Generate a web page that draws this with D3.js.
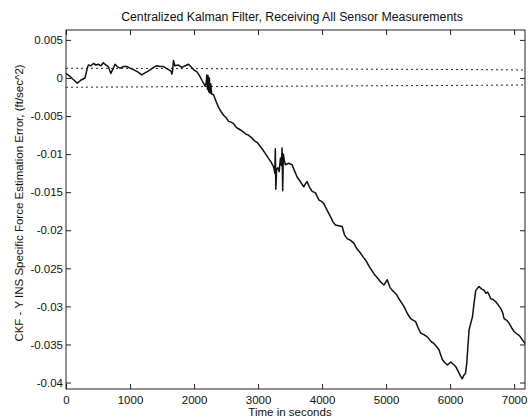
<!DOCTYPE html>
<html>
<head>
<meta charset="utf-8">
<script src="https://cdn.jsdelivr.net/npm/d3@7"></script>
<style>
  body { margin: 0; background: #fff; }
  text { font-family: "Liberation Sans", Arial, sans-serif; fill: #111; }
</style>
</head>
<body>
<svg></svg>
<script>
const title = "Centralized Kalman Filter, Receiving All Sensor Measurements";
const xLabel = "Time in seconds";
const yLabel = "CKF - Y INS Specific Force Estimation Error, (ft/sec^2)";

const xTicks = [0, 1000, 2000, 3000, 4000, 5000, 6000, 7000];
const yTicks = [0.005, 0, -0.005, -0.01, -0.015, -0.02, -0.025, -0.03, -0.035, -0.04];

// time (s)
const times = [
  0, 30, 63, 114, 177, 230, 297, 330, 349, 390, 428, 470, 505, 545, 584, 620, 662, 700, 735, 767,
  800, 845, 900, 950, 1000, 1053, 1120, 1184, 1220, 1262, 1320, 1370, 1419, 1470, 1523, 1560, 1601,
  1640, 1654, 1665, 1679, 1700, 1757, 1810, 1862, 1914, 1960, 1992, 2045, 2085, 2123, 2150, 2175,
  2190, 2200, 2210, 2220, 2230, 2240, 2250, 2262, 2275, 2305, 2340, 2380, 2420, 2462, 2500, 2540,
  2580, 2618, 2660, 2700, 2740, 2775, 2810, 2850, 2906, 2950, 2990, 3036, 3080, 3120, 3166, 3200,
  3244, 3262, 3270, 3278, 3290, 3310, 3330, 3350, 3365, 3375, 3385, 3395, 3410, 3427, 3480, 3532,
  3570, 3610, 3660, 3714, 3740, 3766, 3800, 3845, 3897, 3948, 3990, 4027, 4080, 4131, 4170, 4210,
  4260, 4314, 4350, 4392, 4440, 4496, 4550, 4601, 4640, 4679, 4740, 4809, 4860, 4914, 4966, 5018,
  5060, 5097, 5123, 5160, 5200, 5240, 5279, 5330, 5383, 5420, 5462, 5500, 5540, 5590, 5645, 5700,
  5749, 5790, 5827, 5850, 5880, 5920, 5958, 6009, 6050, 6088, 6130, 6166, 6190, 6218, 6240, 6260,
  6280, 6296, 6320, 6349, 6375, 6401, 6430, 6452, 6490, 6531, 6560, 6584, 6610, 6635, 6670, 6714,
  6750, 6792, 6820, 6844, 6880, 6922, 6960, 7000, 7040, 7079, 7130, 7170
];

// error, in 1e-3 ft/sec^2
const errors = [
  0.6, 0.4, 0.2, -0.2, -0.7, -0.3, 0.0, 1.2, 1.7, 1.6, 1.9, 1.7, 1.8, 1.6, 2.0, 1.7, 1.5, 0.6, 1.2, 1.8,
  1.5, 1.3, 1.5, 1.5, 1.3, 1.1, 0.8, 0.4, 0.6, 0.8, 1.1, 1.4, 1.6, 1.5, 1.5, 1.3, 1.1,
  0.9, 0.5, 1.0, 2.3, 1.6, 1.7, 1.4, 1.6, 1.8, 1.4, 1.1, 0.8, 0.3, -0.3, -0.7, -1.1,
  -0.6, 0.4, -1.5, 0.3, -1.8, 0.0, -2.0, -0.8, -2.1, -2.2, -3.0, -3.8, -4.4, -4.9, -5.2, -5.7,
  -5.8, -6.0, -6.5, -6.7, -6.9, -7.1, -7.4, -7.5, -7.9, -8.3, -8.5, -9.0, -9.5, -10.0, -10.6, -11.0,
  -11.7, -12.5, -9.3, -14.6, -12.0, -11.8, -12.3, -10.5, -11.5, -9.2, -14.8, -10.0, -10.8, -11.4, -11.2, -11.4,
  -12.2, -13.0, -13.6, -14.3, -13.9, -13.6, -14.3, -14.9, -15.1, -16.0, -16.2, -16.5, -17.4, -18.2, -18.9, -19.3,
  -19.4, -19.5, -20.6, -21.1, -21.3, -21.7, -22.5, -23.0, -23.5, -23.9, -24.8, -25.7, -26.2, -26.8, -27.2, -26.5,
  -27.5, -27.9, -28.1, -28.4, -29.0, -29.5, -30.0, -30.9, -31.6, -31.8, -32.0, -32.8, -33.5, -33.7, -34.0, -34.6,
  -34.9, -35.3, -35.7, -36.3, -37.0, -37.4, -37.7, -37.3, -37.6, -37.9, -38.6, -39.2, -39.5, -39.0, -38.8, -37.5,
  -35.0, -33.1, -32.3, -31.4, -29.5, -27.9, -27.6, -27.4, -27.7, -27.9, -28.3, -28.1, -28.5, -29.0, -29.1, -29.4,
  -29.8, -30.3, -30.8, -31.6, -31.8, -32.2, -32.8, -33.3, -33.6, -33.8, -34.4, -34.9
];

// dotted 1-sigma bounds, in 1e-3
const boundTimes = [0, 6000, 7170];
const upperBound = [1.28, 1.12, 1.05];
const lowerBound = [-1.22, -0.98, -0.92];

const svgWidth = 528;
const svgHeight = 420;
const plotLeft = 66, plotRight = 525, plotTop = 30, plotBottom = 389;

const svg = d3.select("svg")
  .attr("width", svgWidth)
  .attr("height", svgHeight);

const xScale = d3.scaleLinear().domain([0, 7170]).range([plotLeft, plotRight]);
const yScale = d3.scaleLinear().domain([-0.04085, 0.0063]).range([plotBottom, plotTop]);

const fmt = d => (d === 0 ? "0" : String(+d.toFixed(3)));

const line = d3.line()
  .x(d => xScale(d[0]))
  .y(d => yScale(d[1] * 1e-3));

// bounds
[upperBound, lowerBound].forEach(b => {
  svg.append("path")
    .datum(boundTimes.map((t, i) => [t, b[i]]))
    .attr("d", line)
    .attr("fill", "none")
    .attr("stroke", "#222")
    .attr("stroke-width", 1)
    .attr("stroke-dasharray", "2,3");
});

// error curve
svg.append("path")
  .datum(times.map((t, i) => [t, errors[i]]))
  .attr("d", line)
  .attr("fill", "none")
  .attr("stroke", "#111")
  .attr("stroke-width", 1.5)
  .attr("stroke-linejoin", "round");

// axes (ticks pointing inward)
const axisStyle = g => {
  g.select(".domain").remove();
  g.selectAll("line").attr("stroke", "#222");
  g.selectAll("text").attr("font-size", 11.5).attr("fill", "#111")
    .style("font-family", "'Liberation Sans', Arial, sans-serif");
};

svg.append("g")
  .attr("transform", "translate(0," + plotBottom + ")")
  .call(d3.axisBottom(xScale).tickValues(xTicks).tickFormat(d3.format("d")).tickSize(-5).tickPadding(7))
  .call(axisStyle);

svg.append("g")
  .attr("transform", "translate(0," + plotTop + ")")
  .call(d3.axisTop(xScale).tickValues(xTicks).tickFormat("").tickSize(-5))
  .call(axisStyle);

svg.append("g")
  .attr("transform", "translate(" + plotLeft + ",0)")
  .call(d3.axisLeft(yScale).tickValues(yTicks).tickFormat(fmt).tickSize(-5).tickPadding(3))
  .call(axisStyle);

svg.append("g")
  .attr("transform", "translate(" + plotRight + ",0)")
  .call(d3.axisRight(yScale).tickValues(yTicks).tickFormat("").tickSize(-5))
  .call(axisStyle);

// frame
svg.append("rect")
  .attr("x", plotLeft)
  .attr("y", plotTop)
  .attr("width", plotRight - plotLeft)
  .attr("height", plotBottom - plotTop)
  .attr("fill", "none")
  .attr("stroke", "#222")
  .attr("stroke-width", 1);

// labels
svg.append("text")
  .attr("x", 292)
  .attr("y", 21)
  .attr("text-anchor", "middle")
  .attr("font-size", 12.3)
  .text(title);

svg.append("text")
  .attr("x", 290)
  .attr("y", 416)
  .attr("text-anchor", "middle")
  .attr("font-size", 11.5)
  .text(xLabel);

svg.append("text")
  .attr("transform", "translate(23,203) rotate(-90)")
  .attr("text-anchor", "middle")
  .attr("font-size", 11.5)
  .text(yLabel);
</script>
</body>
</html>
